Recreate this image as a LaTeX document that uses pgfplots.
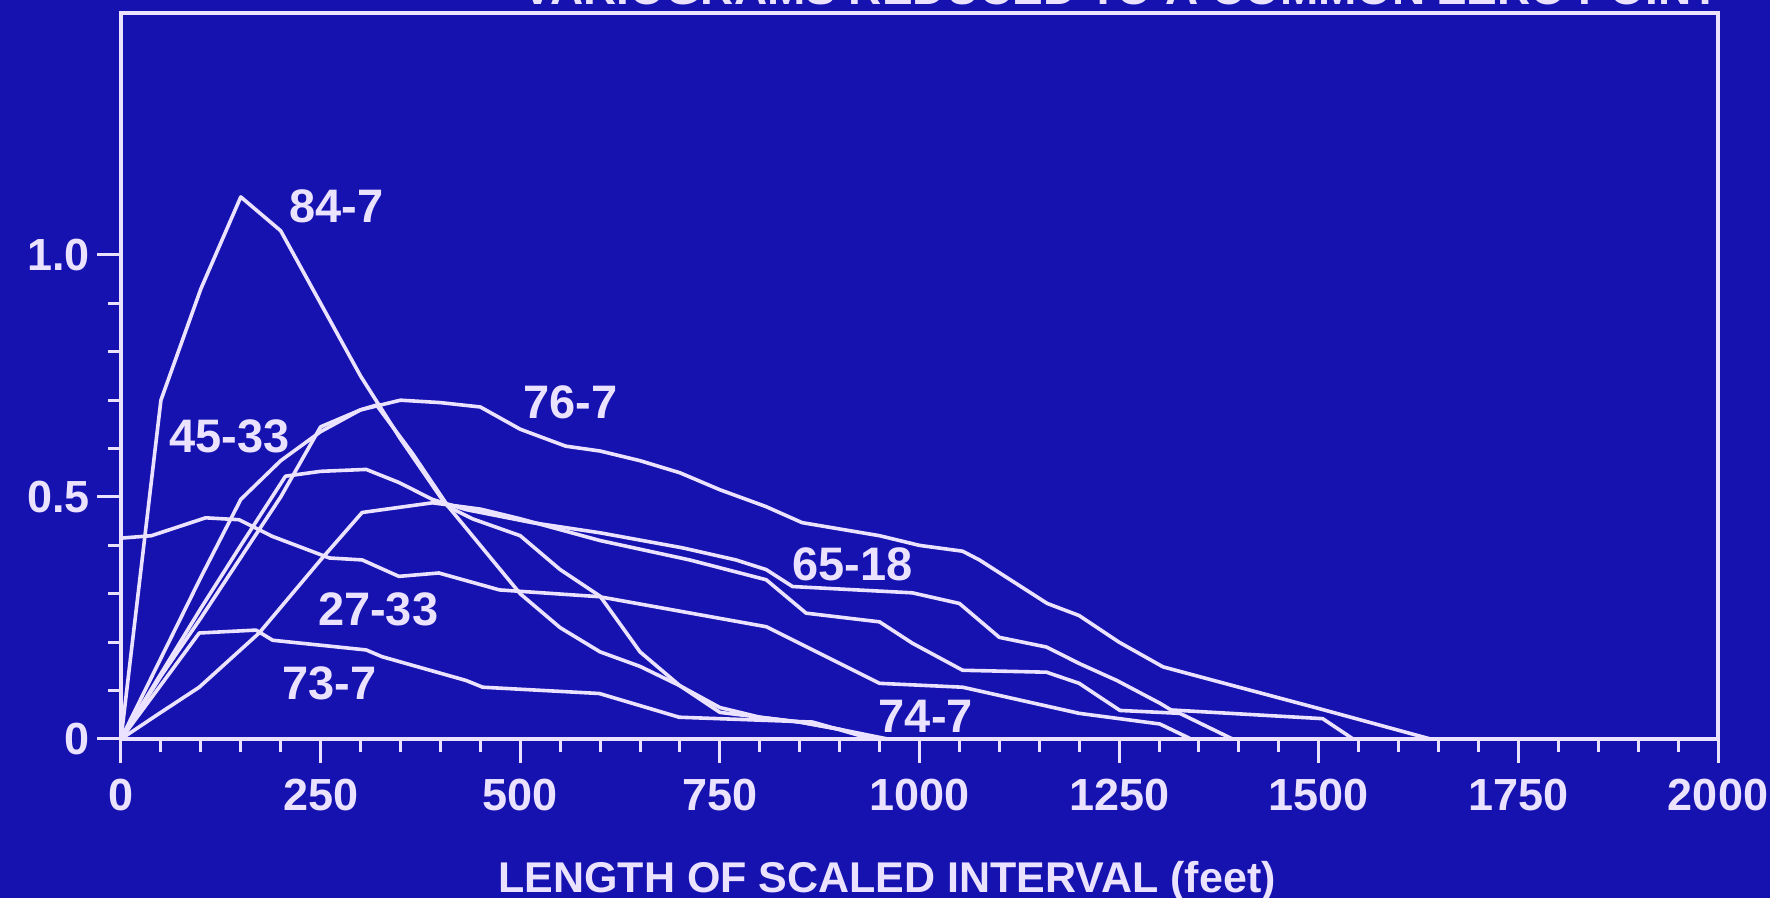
\documentclass[border=0pt]{standalone}
\usepackage{fontspec}
\setmainfont{Liberation Sans}
\usepackage{pgfplots}
\pgfplotsset{compat=1.18}
\definecolor{bg}{RGB}{22,18,176}
\definecolor{ln}{RGB}{234,226,255}
\newcommand{\tl}{\fontsize{22.5}{24}\selectfont\bfseries}
\newcommand{\cl}{\fontsize{23.5}{25}\selectfont\bfseries}
\pgfplotsset{curve/.style={draw=ln, solid, line width=1.8pt, mark=none, line join=round}}
\begin{document}
\begin{tikzpicture}
\path[use as bounding box, fill=bg] (-60.5pt,-79.5pt) rectangle (824.5pt,369.5pt);
\begin{axis}[
  name=ax, at={(0,0)}, anchor=south west,
  scale only axis, width=798.5pt, height=363pt,
  xmin=0, xmax=2000, ymin=0, ymax=1.5,
  axis line style={draw=ln, line width=2.4pt},
  xtick={0,250,...,2000},
  xticklabels={0,250,500,750,1000,1250,1500,1750,2000},
  ytick={0,0.5,1.0}, yticklabels={0,0.5,1.0},
  minor x tick num=4, minor y tick num=4,
  tick align=outside, tick pos=left,
  major tick length=12pt, minor tick length=6.5pt,
  tick style={draw=ln, line width=1.5pt},
  ticklabel style={font=\tl, text=ln},
  xticklabel style={yshift=-4.5pt},
  every axis x label/.style={at={(axis description cs:0.4797,0)}, anchor=base, yshift=-76.5pt, font=\fontsize{21.5}{23}\selectfont\bfseries, text=ln},
  xlabel={LENGTH OF SCALED INTERVAL (feet)},
]
% 84-7
\addplot[curve] coordinates {(0,0) (50,0.70) (100,0.93) (150,1.12) (200,1.05) (250,0.90) (300,0.75) (350,0.62) (400,0.50) (450,0.40) (500,0.30) (550,0.23) (600,0.18) (650,0.15) (700,0.11) (750,0.065) (800,0.045) (850,0.035) (900,0.02) (940,0)};
% 45-33
\addplot[curve] coordinates {(0,0) (50,0.13) (100,0.25) (150,0.375) (200,0.50) (250,0.645) (300,0.68) (320,0.69) (365,0.59) (410,0.48) (440,0.455) (500,0.42) (550,0.35) (600,0.295) (650,0.18) (700,0.11) (750,0.055) (800,0.045) (850,0.035) (900,0.02) (960,0)};
% 76-7
\addplot[curve] coordinates {(0,0) (50,0.167) (100,0.334) (150,0.495) (200,0.575) (250,0.635) (300,0.68) (350,0.70) (400,0.695) (450,0.686) (500,0.64) (557,0.605) (600,0.595) (650,0.575) (700,0.55) (750,0.515) (808,0.48) (853,0.447) (950,0.42) (1000,0.40) (1054,0.388) (1075,0.37) (1160,0.28) (1200,0.255) (1250,0.20) (1305,0.149) (1400,0.107) (1500,0.063) (1600,0.018) (1640,0)};
% 65-18
\addplot[curve] coordinates {(0,0) (50,0.135) (100,0.27) (150,0.40) (206,0.543) (250,0.553) (307,0.557) (348,0.53) (390,0.495) (432,0.474) (515,0.447) (600,0.426) (703,0.395) (770,0.37) (808,0.35) (841,0.315) (991,0.302) (1050,0.28) (1100,0.21) (1159,0.19) (1200,0.156) (1247,0.121) (1301,0.074) (1315,0.06) (1505,0.042) (1543,0)};
% 74-7
\addplot[curve] coordinates {(0,0) (50,0.055) (98,0.107) (173,0.219) (250,0.37) (302,0.468) (390,0.488) (450,0.475) (500,0.455) (600,0.41) (712,0.37) (808,0.329) (858,0.26) (950,0.242) (991,0.198) (1054,0.142) (1159,0.138) (1200,0.115) (1251,0.059) (1326,0.053) (1392,0)};
% 27-33
\addplot[curve] coordinates {(0,0.415) (38,0.42) (106,0.457) (148,0.453) (189,0.419) (261,0.374) (302,0.370) (348,0.336) (398,0.343) (474,0.308) (599,0.294) (808,0.232) (950,0.115) (1054,0.107) (1200,0.053) (1301,0.031) (1340,0)};
% 73-7
\addplot[curve] coordinates {(0,0) (98,0.219) (169,0.225) (190,0.204) (307,0.184) (327,0.17) (432,0.121) (453,0.107) (599,0.094) (699,0.045) (866,0.035) (941,0)};
\node[text=ln, font=\cl] at (axis cs:270,1.10) {84-7};
\node[text=ln, font=\cl] at (axis cs:136,0.626) {45-33};
\node[text=ln, font=\cl] at (axis cs:563,0.696) {76-7};
\node[text=ln, font=\cl] at (axis cs:916,0.36) {65-18};
\node[text=ln, font=\cl] at (axis cs:322,0.267) {27-33};
\node[text=ln, font=\cl] at (axis cs:261,0.116) {73-7};
\node[text=ln, font=\cl] at (axis cs:1008,0.046) {74-7};
\end{axis}
\node[anchor=base east, text=ln, font=\fontsize{23}{25}\selectfont\bfseries, inner sep=0pt] at ([shift={(1pt,4.3pt)}]ax.north east) {VARIOGRAMS REDUCED TO A COMMON ZERO POINT};
\end{tikzpicture}
\end{document}
